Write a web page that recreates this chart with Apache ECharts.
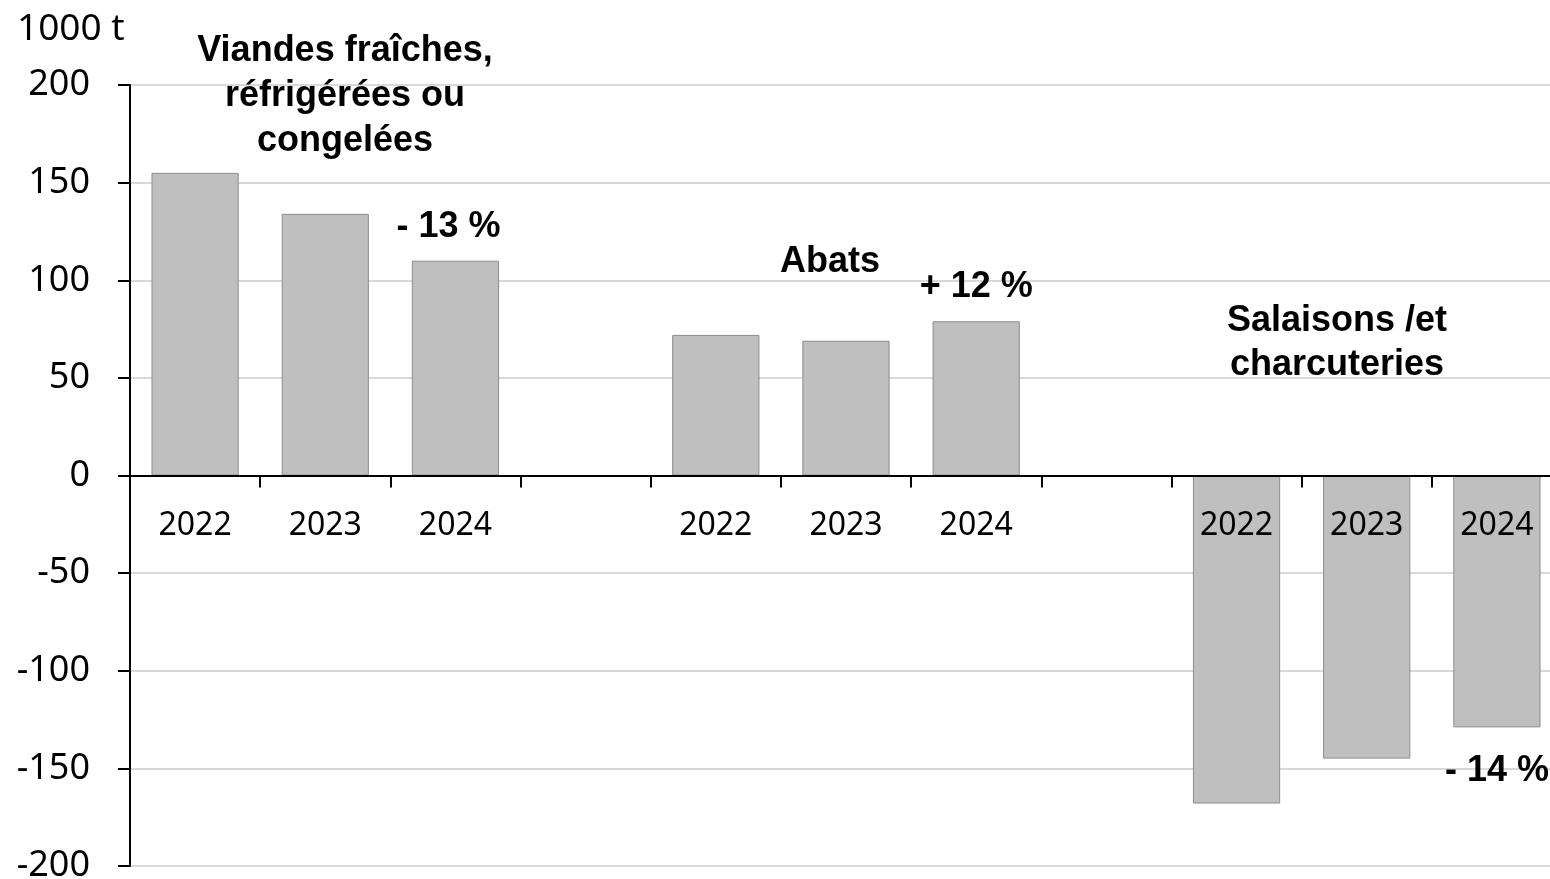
<!DOCTYPE html>
<html>
<head>
<meta charset="utf-8">
<script src="https://cdn.jsdelivr.net/npm/echarts@6/dist/echarts.min.js"></script>
<style>
  html, body { margin: 0; padding: 0; background: #fff; }
  #chart { width: 1550px; height: 879px; }
</style>
</head>
<body>
<div id="chart"></div>
<script>
// categories: three groups of years, blank slot between groups
var years = ['2022', '2023', '2024', '', '2022', '2023', '2024', '', '2022', '2023', '2024'];
// solde en 1000 t
var values = [155, 134, 110, null, 72, 69, 79, null, -168, -145, -129];
// variation labels shown on the 2024 bars
var pctLabels = ['', '', '- 13 %', '', '', '', '+ 12 %', '', '', '', '- 14 %'];
var groupTitles = ['Viandes fraîches,\nréfrigérées ou\ncongelées', 'Abats', 'Salaisons /et\ncharcuteries'];
var yTicks = { min: -200, max: 200, step: 50 };

var boldFamily = '"Liberation Sans", Arial, sans-serif';
var boldFont = 'bold 36px ' + boldFamily;
var textFont = '"Noto Sans", sans-serif';

var gridTop = 85, gridBottom = 13, chartH = 879;

var myChart = echarts.init(document.getElementById('chart'));

var barData = values.map(function (v, i) {
    var item = { value: v };
    if (pctLabels[i]) {
        item.label = {
            show: true,
            formatter: pctLabels[i],
            position: v < 0 ? 'bottom' : 'top',
            distance: v < 0 ? 26 : 16,
            offset: [i === 2 ? -7 : 0, 0],
            fontFamily: boldFamily,
            fontWeight: 'bold',
            fontSize: 36,
            color: '#000'
        };
    }
    return item;
});

// move the category axis up to the zero line (labels follow it)
var plotH = chartH - gridTop - gridBottom;
var zeroOffset = -plotH * (0 - yTicks.min) / (yTicks.max - yTicks.min);

var option = {
    animation: false,
    grid: { left: 130, right: -12, top: gridTop, bottom: gridBottom, containLabel: false, outerBoundsMode: 'none' },
    xAxis: {
        type: 'category',
        data: years,
        z: 5,
        offset: zeroOffset,
        axisLine: { onZero: false, lineStyle: { color: '#000', width: 2 } },
        axisTick: { show: true, interval: 0, length: 12, lineStyle: { color: '#000', width: 2 } },
        axisLabel: {
            interval: 0,
            margin: 34,
            fontFamily: textFont,
            fontSize: 32,
            color: '#000'
        },
        splitLine: { show: false }
    },
    yAxis: {
        type: 'value',
        min: yTicks.min,
        max: yTicks.max,
        interval: yTicks.step,
        axisLine: { show: true, lineStyle: { color: '#000', width: 2 } },
        axisTick: { show: true, length: 12, lineStyle: { color: '#000', width: 2 } },
        axisLabel: {
            margin: 40,
            fontFamily: textFont,
            fontSize: 36,
            color: '#000'
        },
        splitLine: { show: true, lineStyle: { color: '#d9d9d9', width: 2 } }
    },
    series: [{
        type: 'bar',
        data: barData,
        barWidth: '67%',
        itemStyle: { color: '#bfbfbf', borderColor: '#8c8c8c', borderWidth: 1 }
    }],
    graphic: [
        {
            type: 'text', left: 17, top: 11, z: 100,
            style: { text: '1000 t', font: '37px ' + textFont, fill: '#000' }
        },
        {
            type: 'text', x: 345, y: 29, z: 100,
            style: { text: groupTitles[0], font: boldFont, fill: '#000', align: 'center', verticalAlign: 'top', lineHeight: 45 }
        },
        {
            type: 'text', x: 830, y: 262, z: 100,
            style: { text: groupTitles[1], font: boldFont, fill: '#000', align: 'center', verticalAlign: 'middle' }
        },
        {
            type: 'text', x: 1337, y: 299, z: 100,
            style: { text: groupTitles[2], font: boldFont, fill: '#000', align: 'center', verticalAlign: 'top', lineHeight: 44 }
        }
    ]
};

myChart.setOption(option);
</script>
</body>
</html>
